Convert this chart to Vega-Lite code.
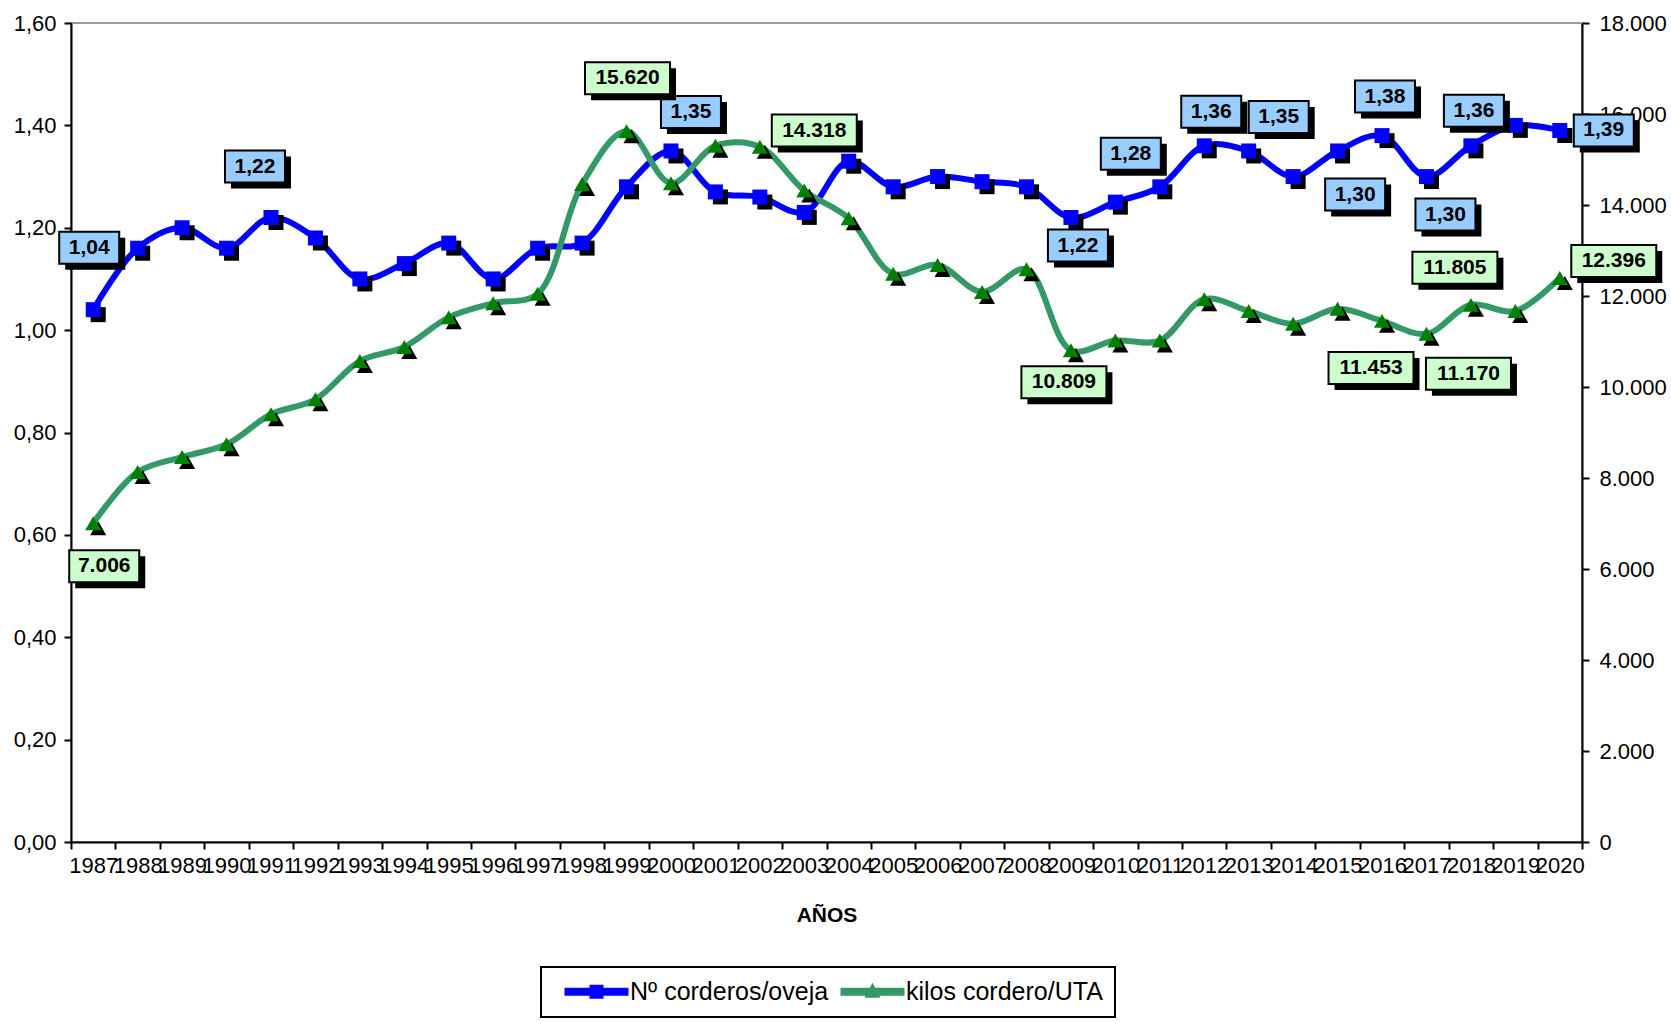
{
  "$schema": "https://vega.github.io/schema/vega-lite/v6.json",
  "width": 1511,
  "height": 819,
  "autosize": {"type": "none"},
  "padding": {"left": 71, "top": 23, "right": 89, "bottom": 182},
  "background": "white",
  "config": {
    "locale": {"number": {"decimal": ",", "thousands": ".", "grouping": [3], "currency": ["", " €"]}},
    "view": {"stroke": "#9a9a9a", "strokeWidth": 2},
    "font": "Liberation Sans",
    "axis": {"domainColor": "black", "tickColor": "black", "labelColor": "black", "domainWidth": 2, "tickWidth": 2, "grid": false, "labelFont": "Liberation Sans", "titleFont": "Liberation Sans", "titleColor": "black"}
  },
  "data": {"values": [
    {"year": 1987, "corderos": 1.04, "kilos": 7006},
    {"year": 1988, "corderos": 1.16, "kilos": 8130},
    {"year": 1989, "corderos": 1.20, "kilos": 8460},
    {"year": 1990, "corderos": 1.16, "kilos": 8740},
    {"year": 1991, "corderos": 1.22, "kilos": 9400},
    {"year": 1992, "corderos": 1.18, "kilos": 9730},
    {"year": 1993, "corderos": 1.10, "kilos": 10570},
    {"year": 1994, "corderos": 1.13, "kilos": 10880},
    {"year": 1995, "corderos": 1.17, "kilos": 11530},
    {"year": 1996, "corderos": 1.10, "kilos": 11840},
    {"year": 1997, "corderos": 1.16, "kilos": 12050},
    {"year": 1998, "corderos": 1.17, "kilos": 14460},
    {"year": 1999, "corderos": 1.28, "kilos": 15620},
    {"year": 2000, "corderos": 1.35, "kilos": 14480},
    {"year": 2001, "corderos": 1.27, "kilos": 15300},
    {"year": 2002, "corderos": 1.26, "kilos": 15280},
    {"year": 2003, "corderos": 1.23, "kilos": 14318},
    {"year": 2004, "corderos": 1.33, "kilos": 13710},
    {"year": 2005, "corderos": 1.28, "kilos": 12490},
    {"year": 2006, "corderos": 1.30, "kilos": 12680},
    {"year": 2007, "corderos": 1.29, "kilos": 12090},
    {"year": 2008, "corderos": 1.28, "kilos": 12590},
    {"year": 2009, "corderos": 1.22, "kilos": 10809},
    {"year": 2010, "corderos": 1.25, "kilos": 11020},
    {"year": 2011, "corderos": 1.28, "kilos": 11020},
    {"year": 2012, "corderos": 1.36, "kilos": 11930},
    {"year": 2013, "corderos": 1.35, "kilos": 11670},
    {"year": 2014, "corderos": 1.30, "kilos": 11390},
    {"year": 2015, "corderos": 1.35, "kilos": 11720},
    {"year": 2016, "corderos": 1.38, "kilos": 11453},
    {"year": 2017, "corderos": 1.30, "kilos": 11170},
    {"year": 2018, "corderos": 1.36, "kilos": 11805},
    {"year": 2019, "corderos": 1.40, "kilos": 11670},
    {"year": 2020, "corderos": 1.39, "kilos": 12396}
  ]},
  "encoding": {
    "x": {"field": "year", "type": "ordinal", "scale": {"type": "band", "paddingInner": 0, "paddingOuter": 0},
      "axis": {"title": "AÑOS", "titleFontSize": 21, "titleFontWeight": "bold", "titlePadding": 28, "labelAngle": 0, "labelFontSize": 22, "labelPadding": 6, "labelOverlap": false, "tickBand": "extent", "tickSize": 7}}
  },
  "layer": [
    {
      "encoding": {"y": {"field": "corderos", "type": "quantitative", "scale": {"domain": [0, 1.6], "nice": false},
        "axis": {"orient": "left", "title": null, "values": [0, 0.2, 0.4, 0.6, 0.8, 1.0, 1.2, 1.4, 1.6], "format": ".2f", "labelFontSize": 22, "tickSize": 7, "labelPadding": 8}}},
      "layer": [
        {"mark": {"type": "line", "interpolate": "catmull-rom", "strokeWidth": 6, "strokeCap": "round", "strokeJoin": "round"},
          "encoding": {"color": {"datum": "Nº corderos/oveja", "type": "nominal",
            "scale": {"domain": ["Nº corderos/oveja", "kilos cordero/UTA"], "range": ["#0000FF", "#339966"]},
            "legend": {"orient": "none", "legendX": 470, "legendY": 944, "direction": "horizontal", "title": null,
              "strokeColor": "black", "fillColor": "white", "padding": 12, "labelFontSize": 25, "labelFont": "Liberation Sans", "labelColor": "black", "labelLimit": 400,
              "symbolSize": 400, "symbolOffset": 31, "labelOffset": 21, "columnPadding": 0,
              "encode": {
                "symbols": {"update": {
                  "shape": {"signal": "datum.value === 'Nº corderos/oveja' ? 'M-3.2,-0.4L-0.7,-0.4L-0.7,-0.7L0.7,-0.7L0.7,-0.4L3.2,-0.4L3.2,0.4L0.7,0.4L0.7,0.7L-0.7,0.7L-0.7,0.4L-3.2,0.4Z' : 'M-3.2,-0.4L-0.267,-0.4L0,-0.9L0.267,-0.4L3.2,-0.4L3.2,0.4L0.693,0.4L0.8,0.6L-0.8,0.6L-0.693,0.4L-3.2,0.4Z'"},
                  "fill": {"signal": "datum.value === 'Nº corderos/oveja' ? '#0000FF' : '#339966'"},
                  "stroke": {"value": "transparent"},
                  "strokeWidth": {"value": 0},
                  "opacity": {"value": 1}
                }},
                "legend": {"update": {"strokeWidth": {"value": 2}}}
              }}}}},
        {"mark": {"type": "point", "shape": "square", "size": 225, "filled": true, "color": "black", "opacity": 1, "xOffset": 5, "yOffset": 5}},
        {"mark": {"type": "point", "shape": "square", "size": 225, "filled": true, "color": "#0000FF", "opacity": 1}},

        {"transform": [{"filter": "datum.year == 1987"}], "layer": [
          {"mark": {"type": "point", "shape": "M-3,-1.6L3,-1.6L3,1.6L-3,1.6Z", "size": 400, "filled": true, "color": "black", "opacity": 1, "xOffset": 2, "yOffset": -56}},
          {"mark": {"type": "point", "shape": "M-3,-1.6L3,-1.6L3,1.6L-3,1.6Z", "size": 400, "filled": true, "fill": "#99CCFF", "stroke": "black", "strokeWidth": 2, "opacity": 1, "xOffset": -4, "yOffset": -62}},
          {"mark": {"type": "text", "fontWeight": "bold", "fontSize": 21, "color": "black", "align": "center", "baseline": "middle", "dx": -4, "dy": -62}, "encoding": {"text": {"field": "corderos", "type": "quantitative", "format": ".2f"}}}
        ]},
        {"transform": [{"filter": "datum.year == 1991"}], "layer": [
          {"mark": {"type": "point", "shape": "M-3,-1.6L3,-1.6L3,1.6L-3,1.6Z", "size": 400, "filled": true, "color": "black", "opacity": 1, "xOffset": -10, "yOffset": -45}},
          {"mark": {"type": "point", "shape": "M-3,-1.6L3,-1.6L3,1.6L-3,1.6Z", "size": 400, "filled": true, "fill": "#99CCFF", "stroke": "black", "strokeWidth": 2, "opacity": 1, "xOffset": -16, "yOffset": -51}},
          {"mark": {"type": "text", "fontWeight": "bold", "fontSize": 21, "color": "black", "align": "center", "baseline": "middle", "dx": -16, "dy": -51}, "encoding": {"text": {"field": "corderos", "type": "quantitative", "format": ".2f"}}}
        ]},
        {"transform": [{"filter": "datum.year == 2000"}], "layer": [
          {"mark": {"type": "point", "shape": "M-3,-1.6L3,-1.6L3,1.6L-3,1.6Z", "size": 400, "filled": true, "color": "black", "opacity": 1, "xOffset": 26, "yOffset": -33}},
          {"mark": {"type": "point", "shape": "M-3,-1.6L3,-1.6L3,1.6L-3,1.6Z", "size": 400, "filled": true, "fill": "#99CCFF", "stroke": "black", "strokeWidth": 2, "opacity": 1, "xOffset": 20, "yOffset": -39}},
          {"mark": {"type": "text", "fontWeight": "bold", "fontSize": 21, "color": "black", "align": "center", "baseline": "middle", "dx": 20, "dy": -39}, "encoding": {"text": {"field": "corderos", "type": "quantitative", "format": ".2f"}}}
        ]},
        {"transform": [{"filter": "datum.year == 2009"}], "layer": [
          {"mark": {"type": "point", "shape": "M-3,-1.6L3,-1.6L3,1.6L-3,1.6Z", "size": 400, "filled": true, "color": "black", "opacity": 1, "xOffset": 13, "yOffset": 34}},
          {"mark": {"type": "point", "shape": "M-3,-1.6L3,-1.6L3,1.6L-3,1.6Z", "size": 400, "filled": true, "fill": "#99CCFF", "stroke": "black", "strokeWidth": 2, "opacity": 1, "xOffset": 7, "yOffset": 28}},
          {"mark": {"type": "text", "fontWeight": "bold", "fontSize": 21, "color": "black", "align": "center", "baseline": "middle", "dx": 7, "dy": 28}, "encoding": {"text": {"field": "corderos", "type": "quantitative", "format": ".2f"}}}
        ]},
        {"transform": [{"filter": "datum.year == 2011"}], "layer": [
          {"mark": {"type": "point", "shape": "M-3,-1.6L3,-1.6L3,1.6L-3,1.6Z", "size": 400, "filled": true, "color": "black", "opacity": 1, "xOffset": -23, "yOffset": -27}},
          {"mark": {"type": "point", "shape": "M-3,-1.6L3,-1.6L3,1.6L-3,1.6Z", "size": 400, "filled": true, "fill": "#99CCFF", "stroke": "black", "strokeWidth": 2, "opacity": 1, "xOffset": -29, "yOffset": -33}},
          {"mark": {"type": "text", "fontWeight": "bold", "fontSize": 21, "color": "black", "align": "center", "baseline": "middle", "dx": -29, "dy": -33}, "encoding": {"text": {"field": "corderos", "type": "quantitative", "format": ".2f"}}}
        ]},
        {"transform": [{"filter": "datum.year == 2012"}], "layer": [
          {"mark": {"type": "point", "shape": "M-3,-1.6L3,-1.6L3,1.6L-3,1.6Z", "size": 400, "filled": true, "color": "black", "opacity": 1, "xOffset": 13, "yOffset": -28}},
          {"mark": {"type": "point", "shape": "M-3,-1.6L3,-1.6L3,1.6L-3,1.6Z", "size": 400, "filled": true, "fill": "#99CCFF", "stroke": "black", "strokeWidth": 2, "opacity": 1, "xOffset": 7, "yOffset": -34}},
          {"mark": {"type": "text", "fontWeight": "bold", "fontSize": 21, "color": "black", "align": "center", "baseline": "middle", "dx": 7, "dy": -34}, "encoding": {"text": {"field": "corderos", "type": "quantitative", "format": ".2f"}}}
        ]},
        {"transform": [{"filter": "datum.year == 2013"}], "layer": [
          {"mark": {"type": "point", "shape": "M-3,-1.6L3,-1.6L3,1.6L-3,1.6Z", "size": 400, "filled": true, "color": "black", "opacity": 1, "xOffset": 36, "yOffset": -28}},
          {"mark": {"type": "point", "shape": "M-3,-1.6L3,-1.6L3,1.6L-3,1.6Z", "size": 400, "filled": true, "fill": "#99CCFF", "stroke": "black", "strokeWidth": 2, "opacity": 1, "xOffset": 30, "yOffset": -34}},
          {"mark": {"type": "text", "fontWeight": "bold", "fontSize": 21, "color": "black", "align": "center", "baseline": "middle", "dx": 30, "dy": -34}, "encoding": {"text": {"field": "corderos", "type": "quantitative", "format": ".2f"}}}
        ]},
        {"transform": [{"filter": "datum.year == 2014"}], "layer": [
          {"mark": {"type": "point", "shape": "M-3,-1.6L3,-1.6L3,1.6L-3,1.6Z", "size": 400, "filled": true, "color": "black", "opacity": 1, "xOffset": 68, "yOffset": 24}},
          {"mark": {"type": "point", "shape": "M-3,-1.6L3,-1.6L3,1.6L-3,1.6Z", "size": 400, "filled": true, "fill": "#99CCFF", "stroke": "black", "strokeWidth": 2, "opacity": 1, "xOffset": 62, "yOffset": 18}},
          {"mark": {"type": "text", "fontWeight": "bold", "fontSize": 21, "color": "black", "align": "center", "baseline": "middle", "dx": 62, "dy": 18}, "encoding": {"text": {"field": "corderos", "type": "quantitative", "format": ".2f"}}}
        ]},
        {"transform": [{"filter": "datum.year == 2016"}], "layer": [
          {"mark": {"type": "point", "shape": "M-3,-1.6L3,-1.6L3,1.6L-3,1.6Z", "size": 400, "filled": true, "color": "black", "opacity": 1, "xOffset": 9, "yOffset": -33}},
          {"mark": {"type": "point", "shape": "M-3,-1.6L3,-1.6L3,1.6L-3,1.6Z", "size": 400, "filled": true, "fill": "#99CCFF", "stroke": "black", "strokeWidth": 2, "opacity": 1, "xOffset": 3, "yOffset": -39}},
          {"mark": {"type": "text", "fontWeight": "bold", "fontSize": 21, "color": "black", "align": "center", "baseline": "middle", "dx": 3, "dy": -39}, "encoding": {"text": {"field": "corderos", "type": "quantitative", "format": ".2f"}}}
        ]},
        {"transform": [{"filter": "datum.year == 2017"}], "layer": [
          {"mark": {"type": "point", "shape": "M-3,-1.6L3,-1.6L3,1.6L-3,1.6Z", "size": 400, "filled": true, "color": "black", "opacity": 1, "xOffset": 25, "yOffset": 44}},
          {"mark": {"type": "point", "shape": "M-3,-1.6L3,-1.6L3,1.6L-3,1.6Z", "size": 400, "filled": true, "fill": "#99CCFF", "stroke": "black", "strokeWidth": 2, "opacity": 1, "xOffset": 19, "yOffset": 38}},
          {"mark": {"type": "text", "fontWeight": "bold", "fontSize": 21, "color": "black", "align": "center", "baseline": "middle", "dx": 19, "dy": 38}, "encoding": {"text": {"field": "corderos", "type": "quantitative", "format": ".2f"}}}
        ]},
        {"transform": [{"filter": "datum.year == 2018"}], "layer": [
          {"mark": {"type": "point", "shape": "M-3,-1.6L3,-1.6L3,1.6L-3,1.6Z", "size": 400, "filled": true, "color": "black", "opacity": 1, "xOffset": 9, "yOffset": -29}},
          {"mark": {"type": "point", "shape": "M-3,-1.6L3,-1.6L3,1.6L-3,1.6Z", "size": 400, "filled": true, "fill": "#99CCFF", "stroke": "black", "strokeWidth": 2, "opacity": 1, "xOffset": 3, "yOffset": -35}},
          {"mark": {"type": "text", "fontWeight": "bold", "fontSize": 21, "color": "black", "align": "center", "baseline": "middle", "dx": 3, "dy": -35}, "encoding": {"text": {"field": "corderos", "type": "quantitative", "format": ".2f"}}}
        ]},
        {"transform": [{"filter": "datum.year == 2020"}], "layer": [
          {"mark": {"type": "point", "shape": "M-3,-1.6L3,-1.6L3,1.6L-3,1.6Z", "size": 400, "filled": true, "color": "black", "opacity": 1, "xOffset": 50, "yOffset": 6}},
          {"mark": {"type": "point", "shape": "M-3,-1.6L3,-1.6L3,1.6L-3,1.6Z", "size": 400, "filled": true, "fill": "#99CCFF", "stroke": "black", "strokeWidth": 2, "opacity": 1, "xOffset": 44, "yOffset": 0}},
          {"mark": {"type": "text", "fontWeight": "bold", "fontSize": 21, "color": "black", "align": "center", "baseline": "middle", "dx": 44, "dy": 0}, "encoding": {"text": {"field": "corderos", "type": "quantitative", "format": ".2f"}}}
        ]}
      ]
    },
    {
      "encoding": {"y": {"field": "kilos", "type": "quantitative", "scale": {"domain": [0, 18000], "nice": false},
        "axis": {"orient": "right", "title": null, "values": [0, 2000, 4000, 6000, 8000, 10000, 12000, 14000, 16000, 18000], "format": ",d", "labelFontSize": 22, "tickSize": 7, "labelPadding": 10}}},
      "layer": [
        {"mark": {"type": "line", "interpolate": "catmull-rom", "strokeWidth": 6, "strokeCap": "round", "strokeJoin": "round"},
          "encoding": {"color": {"datum": "kilos cordero/UTA", "type": "nominal"}}},
        {"mark": {"type": "point", "shape": "triangle-up", "size": 260, "filled": true, "color": "black", "opacity": 1, "xOffset": 5, "yOffset": 5}},
        {"mark": {"type": "point", "shape": "triangle-up", "size": 260, "filled": true, "color": "#008000", "opacity": 1}},

        {"transform": [{"filter": "datum.year == 1987"}], "layer": [
          {"mark": {"type": "point", "shape": "M-3.5,-1.6L3.5,-1.6L3.5,1.6L-3.5,1.6Z", "size": 400, "filled": true, "color": "black", "opacity": 1, "xOffset": 17, "yOffset": 49}},
          {"mark": {"type": "point", "shape": "M-3.5,-1.6L3.5,-1.6L3.5,1.6L-3.5,1.6Z", "size": 400, "filled": true, "fill": "#CCFFCC", "stroke": "black", "strokeWidth": 2, "opacity": 1, "xOffset": 11, "yOffset": 43}},
          {"mark": {"type": "text", "fontWeight": "bold", "fontSize": 21, "color": "black", "align": "center", "baseline": "middle", "dx": 11, "dy": 43}, "encoding": {"text": {"field": "kilos", "type": "quantitative", "format": ",d"}}}
        ]},
        {"transform": [{"filter": "datum.year == 1999"}], "layer": [
          {"mark": {"type": "point", "shape": "M-4.25,-1.6L4.25,-1.6L4.25,1.6L-4.25,1.6Z", "size": 400, "filled": true, "color": "black", "opacity": 1, "xOffset": 7, "yOffset": -47}},
          {"mark": {"type": "point", "shape": "M-4.25,-1.6L4.25,-1.6L4.25,1.6L-4.25,1.6Z", "size": 400, "filled": true, "fill": "#CCFFCC", "stroke": "black", "strokeWidth": 2, "opacity": 1, "xOffset": 1, "yOffset": -53}},
          {"mark": {"type": "text", "fontWeight": "bold", "fontSize": 21, "color": "black", "align": "center", "baseline": "middle", "dx": 1, "dy": -53}, "encoding": {"text": {"field": "kilos", "type": "quantitative", "format": ",d"}}}
        ]},
        {"transform": [{"filter": "datum.year == 2003"}], "layer": [
          {"mark": {"type": "point", "shape": "M-4.25,-1.6L4.25,-1.6L4.25,1.6L-4.25,1.6Z", "size": 400, "filled": true, "color": "black", "opacity": 1, "xOffset": 16, "yOffset": -54}},
          {"mark": {"type": "point", "shape": "M-4.25,-1.6L4.25,-1.6L4.25,1.6L-4.25,1.6Z", "size": 400, "filled": true, "fill": "#CCFFCC", "stroke": "black", "strokeWidth": 2, "opacity": 1, "xOffset": 10, "yOffset": -60}},
          {"mark": {"type": "text", "fontWeight": "bold", "fontSize": 21, "color": "black", "align": "center", "baseline": "middle", "dx": 10, "dy": -60}, "encoding": {"text": {"field": "kilos", "type": "quantitative", "format": ",d"}}}
        ]},
        {"transform": [{"filter": "datum.year == 2009"}], "layer": [
          {"mark": {"type": "point", "shape": "M-4.25,-1.6L4.25,-1.6L4.25,1.6L-4.25,1.6Z", "size": 400, "filled": true, "color": "black", "opacity": 1, "xOffset": -1, "yOffset": 38}},
          {"mark": {"type": "point", "shape": "M-4.25,-1.6L4.25,-1.6L4.25,1.6L-4.25,1.6Z", "size": 400, "filled": true, "fill": "#CCFFCC", "stroke": "black", "strokeWidth": 2, "opacity": 1, "xOffset": -7, "yOffset": 32}},
          {"mark": {"type": "text", "fontWeight": "bold", "fontSize": 21, "color": "black", "align": "center", "baseline": "middle", "dx": -7, "dy": 32}, "encoding": {"text": {"field": "kilos", "type": "quantitative", "format": ",d"}}}
        ]},
        {"transform": [{"filter": "datum.year == 2016"}], "layer": [
          {"mark": {"type": "point", "shape": "M-4.25,-1.6L4.25,-1.6L4.25,1.6L-4.25,1.6Z", "size": 400, "filled": true, "color": "black", "opacity": 1, "xOffset": -5, "yOffset": 53}},
          {"mark": {"type": "point", "shape": "M-4.25,-1.6L4.25,-1.6L4.25,1.6L-4.25,1.6Z", "size": 400, "filled": true, "fill": "#CCFFCC", "stroke": "black", "strokeWidth": 2, "opacity": 1, "xOffset": -11, "yOffset": 47}},
          {"mark": {"type": "text", "fontWeight": "bold", "fontSize": 21, "color": "black", "align": "center", "baseline": "middle", "dx": -11, "dy": 47}, "encoding": {"text": {"field": "kilos", "type": "quantitative", "format": ",d"}}}
        ]},
        {"transform": [{"filter": "datum.year == 2017"}], "layer": [
          {"mark": {"type": "point", "shape": "M-4.25,-1.6L4.25,-1.6L4.25,1.6L-4.25,1.6Z", "size": 400, "filled": true, "color": "black", "opacity": 1, "xOffset": 48, "yOffset": 46}},
          {"mark": {"type": "point", "shape": "M-4.25,-1.6L4.25,-1.6L4.25,1.6L-4.25,1.6Z", "size": 400, "filled": true, "fill": "#CCFFCC", "stroke": "black", "strokeWidth": 2, "opacity": 1, "xOffset": 42, "yOffset": 40}},
          {"mark": {"type": "text", "fontWeight": "bold", "fontSize": 21, "color": "black", "align": "center", "baseline": "middle", "dx": 42, "dy": 40}, "encoding": {"text": {"field": "kilos", "type": "quantitative", "format": ",d"}}}
        ]},
        {"transform": [{"filter": "datum.year == 2018"}], "layer": [
          {"mark": {"type": "point", "shape": "M-4.25,-1.6L4.25,-1.6L4.25,1.6L-4.25,1.6Z", "size": 400, "filled": true, "color": "black", "opacity": 1, "xOffset": -10, "yOffset": -31}},
          {"mark": {"type": "point", "shape": "M-4.25,-1.6L4.25,-1.6L4.25,1.6L-4.25,1.6Z", "size": 400, "filled": true, "fill": "#CCFFCC", "stroke": "black", "strokeWidth": 2, "opacity": 1, "xOffset": -16, "yOffset": -37}},
          {"mark": {"type": "text", "fontWeight": "bold", "fontSize": 21, "color": "black", "align": "center", "baseline": "middle", "dx": -16, "dy": -37}, "encoding": {"text": {"field": "kilos", "type": "quantitative", "format": ",d"}}}
        ]},
        {"transform": [{"filter": "datum.year == 2020"}], "layer": [
          {"mark": {"type": "point", "shape": "M-4.25,-1.6L4.25,-1.6L4.25,1.6L-4.25,1.6Z", "size": 400, "filled": true, "color": "black", "opacity": 1, "xOffset": 60, "yOffset": -11}},
          {"mark": {"type": "point", "shape": "M-4.25,-1.6L4.25,-1.6L4.25,1.6L-4.25,1.6Z", "size": 400, "filled": true, "fill": "#CCFFCC", "stroke": "black", "strokeWidth": 2, "opacity": 1, "xOffset": 54, "yOffset": -17}},
          {"mark": {"type": "text", "fontWeight": "bold", "fontSize": 21, "color": "black", "align": "center", "baseline": "middle", "dx": 54, "dy": -17}, "encoding": {"text": {"field": "kilos", "type": "quantitative", "format": ",d"}}}
        ]}
      ]
    }
  ],
  "resolve": {"scale": {"y": "independent"}}
}
